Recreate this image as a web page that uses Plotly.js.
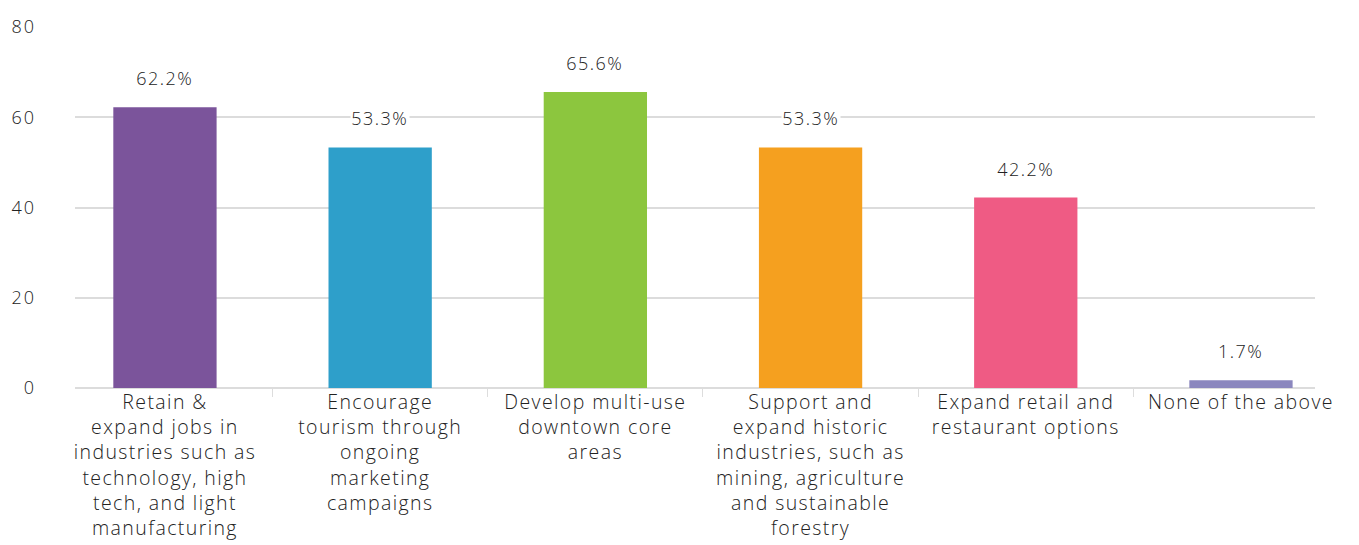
<!DOCTYPE html>
<html>
<head>
<meta charset="utf-8">
<script src="https://cdn.plot.ly/plotly-3.0.1.min.js"></script>
<style>
html,body{margin:0;padding:0;background:#fff;}
#chart{width:1359px;height:545px;}
#chart .xtick text{letter-spacing:1.4px;}
#chart .ytick text{letter-spacing:2px;}
#chart .annotation-text{letter-spacing:1.5px;}
</style>
</head>
<body>
<div id="chart"></div>
<script>
const categories = [
  "Retain &<br>expand jobs in<br>industries such as<br>technology, high<br>tech, and light<br>manufacturing",
  "Encourage<br>tourism through<br>ongoing<br>marketing<br>campaigns",
  "Develop multi-use<br>downtown core<br>areas",
  "Support and<br>expand historic<br>industries, such as<br>mining, agriculture<br>and sustainable<br>forestry",
  "Expand retail and<br>restaurant options",
  "None of the above"
];
const values = [62.2, 53.3, 65.6, 53.3, 42.2, 1.7];
const barColors = ["#7B549B", "#2E9FCA", "#8CC63E", "#F5A01F", "#EF5B84", "#8B87BE"];
const yTickVals = [0, 20, 40, 60, 80];
const yTickText = ["0", "20", "40", "60", "80"];

const FONT = "'Open Sans', Lato, sans-serif";

const trace = {
  type: "bar",
  x: categories,
  y: values,
  width: 0.48,
  marker: {color: barColors},
  hoverinfo: "none"
};

const annotations = categories.map((c, i) => ({
  x: c, y: values[i], xref: "x", yref: "y",
  text: values[i].toFixed(1) + "%",
  showarrow: false, yanchor: "middle", yshift: 29,
  bgcolor: "#ffffff", borderpad: 4,
  font: {family: FONT, size: 18, weight: 300, color: "#222222"}
}));

const layout = {
  width: 1359, height: 545,
  margin: {l: 75, r: 44, t: 27, b: 157},
  paper_bgcolor: "#ffffff", plot_bgcolor: "#ffffff",
  showlegend: false,
  font: {family: FONT, color: "#222222"},
  xaxis: {
    type: "category",
    range: [-0.418, 5.344],
    showgrid: false,
    ticks: "outside", ticklen: 8, tickcolor: "#dddddd", tickwidth: 1,
    tickson: "boundaries",
    ticklabelstandoff: 0,
    showline: false,
    tickfont: {family: FONT, size: 19.5, weight: 300, color: "#222222"},
    fixedrange: true
  },
  yaxis: {
    range: [0, 80],
    tickvals: yTickVals, ticktext: yTickText,
    showgrid: true, gridcolor: "#dcdcdc", gridwidth: 2,
    zeroline: true, zerolinecolor: "#dcdcdc", zerolinewidth: 2,
    ticklabelstandoff: 38,
    tickfont: {family: FONT, size: 18, weight: 300, color: "#222222"},
    fixedrange: true
  },
  annotations: annotations
};

Plotly.newPlot("chart", [trace], layout, {displayModeBar: false, staticPlot: true});
</script>
</body>
</html>
